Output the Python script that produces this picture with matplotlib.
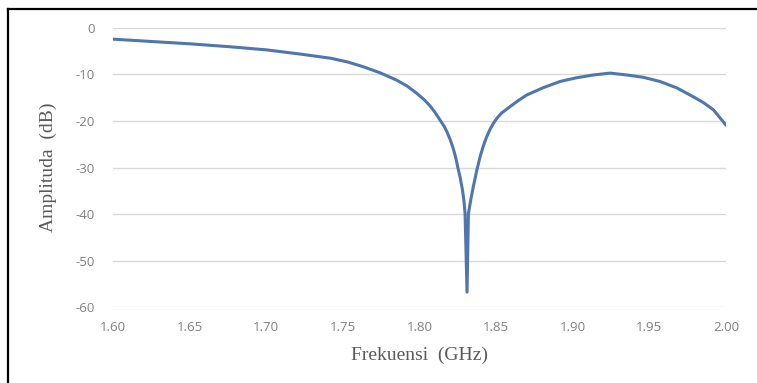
import matplotlib
matplotlib.use("Agg")
import matplotlib.pyplot as plt
from matplotlib.lines import Line2D

# data (GHz, dB)
freq = [1.600, 1.625, 1.650, 1.675, 1.700, 1.722, 1.742, 1.753, 1.763, 1.774,
        1.785, 1.792, 1.798, 1.803, 1.807, 1.810, 1.813, 1.816, 1.818, 1.820,
        1.822, 1.8237, 1.825, 1.8266, 1.828, 1.829, 1.8297, 1.831, 1.8319, 1.8335,
        1.8351, 1.8373, 1.8395, 1.8416, 1.8438, 1.846, 1.8482, 1.8505, 1.8535, 1.8591,
        1.8645, 1.870, 1.881, 1.8917, 1.9025, 1.9135, 1.9243, 1.9352, 1.946, 1.9569,
        1.968, 1.9787, 1.9855, 1.9918, 2.000]
amp = [-2.4, -2.9, -3.4, -4.0, -4.7, -5.6, -6.5, -7.3, -8.3, -9.6,
       -11.2, -12.5, -14.0, -15.4, -16.8, -18.1, -19.6, -21.1, -22.4, -24.0,
       -25.9, -28.0, -30.0, -32.3, -34.8, -37.2, -39.8, -56.8, -39.9, -36.8,
       -34.1, -30.7, -27.7, -25.4, -23.4, -21.8, -20.5, -19.4, -18.3, -16.9,
       -15.6, -14.4, -12.8, -11.5, -10.7, -10.1, -9.7, -10.1, -10.6, -11.5,
       -12.9, -14.8, -16.1, -17.6, -20.9]
xticks = [1.60, 1.65, 1.70, 1.75, 1.80, 1.85, 1.90, 1.95, 2.00]
yticks = [0, -10, -20, -30, -40, -50, -60]

plt.rcParams['axes.unicode_minus'] = False

fig = plt.figure(figsize=(7.57, 3.83), dpi=100)
ax = fig.add_axes([0.1493, 0.1984, 0.8098, 0.7285])

ax.plot(freq, amp, color='#4f76ad', lw=2.2, solid_joinstyle='round',
        solid_capstyle='round')

ax.set_xlim(1.6, 2.0)
ax.set_ylim(-60, 0)
ax.set_xticks(xticks)
ax.set_xticklabels(['%.2f' % v for v in xticks])
ax.set_yticks(yticks)
ax.set_yticklabels(['%d' % v for v in yticks])
ax.grid(axis='y', color='#d9d9d9', lw=1)
ax.set_axisbelow(True)
for s in ax.spines.values():
    s.set_visible(False)
ax.tick_params(length=0, labelsize=9.5, labelcolor='#808080')
ax.tick_params(axis='y', pad=13)
ax.tick_params(axis='x', pad=10)
for lab in ax.get_xticklabels() + ax.get_yticklabels():
    lab.set_family('Open Sans')

# axis titles placed in figure coords
fig.text(0.5548, 0.0731, 'Frekuensi  (GHz)', family='Liberation Serif',
         fontsize=14, color='#595959', ha='center', va='center')
fig.text(0.064, 0.5627, 'Amplituda  (dB)', family='Liberation Serif',
         fontsize=14, color='#595959', ha='center', va='center', rotation=90)

# outer frame (top and left edges only visible)
fig.add_artist(Line2D([8/757, 8/757], [0, 1 - 9/383], transform=fig.transFigure,
                      color='black', lw=1.6))
fig.add_artist(Line2D([8/757, 1], [1 - 9/383, 1 - 9/383], transform=fig.transFigure,
                      color='black', lw=1.6))

fig.savefig('out.png', dpi=100)
